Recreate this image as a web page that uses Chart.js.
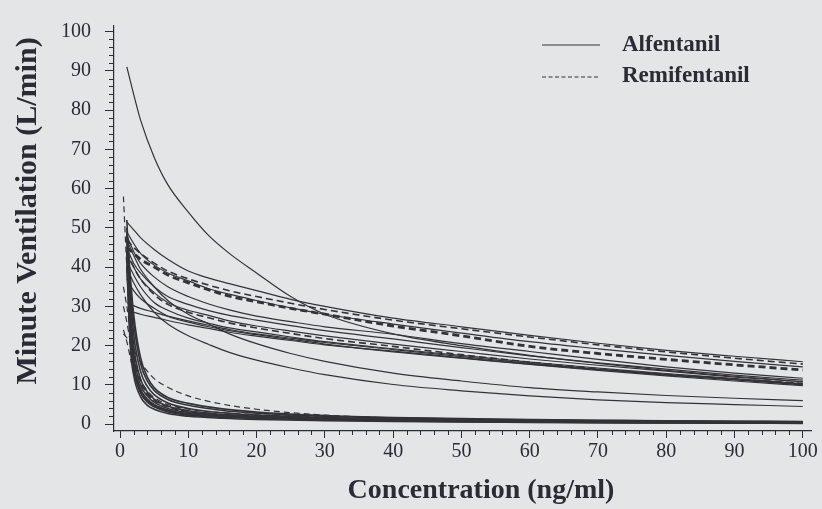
<!DOCTYPE html>
<html lang="en">
<head>
<meta charset="UTF-8">
<title>Minute Ventilation vs Concentration</title>
<script src="https://cdn.jsdelivr.net/npm/chart.js"></script>
<style>
  body { margin: 0; background: #e4e5e7; }
  #wrap { width: 822px; height: 509px; }
</style>
</head>
<body>
<div id="wrap"><canvas id="vent"></canvas></div>
<script>
const concUpper = [1, 2, 3, 5, 7, 10, 13, 16, 20, 25, 30, 40, 50, 60, 70, 80, 90, 100];
const concLower = [1, 1.5, 2, 3, 4, 5, 7, 10, 15, 20, 30, 40, 50, 60, 70, 80, 90, 100];
const concLowerDashed = [0.5, 1, 1.5, 2, 3, 4, 5, 7, 10, 15, 20, 30, 40, 50, 60, 70, 80, 90, 100];

// upper bundle, solid (Alfentanil), minute ventilation L/min
const upperSolid = [
  [91, 84, 77.5, 68, 61, 54, 48, 43.5, 38.5, 32.5, 28, 23, 20, 17.5, 15.5, 13.7, 12.2, 10.8],
  [51.5, 49.5, 47.5, 44.5, 42, 39, 37.2, 35.8, 34, 31.8, 30, 27, 24.8, 22.6, 20.6, 18.8, 17.3, 15.9],
  [49, 46, 43.5, 40.5, 38.5, 36.5, 34.5, 33.1, 31.5, 29.6, 28, 25.5, 23.2, 21, 19.2, 17.5, 16, 14.6],
  [48, 44, 41, 37.5, 35, 32.5, 30.6, 29.1, 27.5, 26.1, 24.8, 22.9, 20.5, 18.5, 16.5, 14.6, 13, 11.7],
  [45, 41, 38.5, 35, 32.5, 30.5, 28.9, 27.7, 26.5, 25.1, 23.8, 21.7, 19.5, 17.4, 15.6, 14, 12.5, 11.2],
  [43, 40, 37, 33.5, 31, 29, 27.7, 26.3, 25, 23.7, 22.5, 20.4, 18.5, 16.6, 15, 13.5, 12, 10.8],
  [41.5, 38, 35, 31, 29, 27, 25.7, 24.5, 23.5, 22.2, 21, 19.2, 17.5, 15.8, 14.3, 12.9, 11.6, 10.3],
  [37, 34, 32, 29.5, 27.5, 26, 24.8, 23.8, 22.8, 21.6, 20.4, 18.4, 16.8, 15.2, 13.7, 12.3, 11, 9.8],
  [31, 30.2, 29.5, 28.5, 27.5, 26.3, 25.2, 24.1, 23, 21.9, 20.8, 19, 17.2, 15.5, 14, 12.7, 11.4, 10.2],
  [29, 28.5, 28, 27.2, 26.4, 25.3, 24.4, 23.4, 22.4, 21.3, 20.2, 18.6, 16.9, 15.3, 13.9, 12.5, 11.3, 10],
  [40, 36, 33, 28.5, 25.5, 22.5, 20.3, 18.3, 16.3, 14.3, 12.6, 10.1, 8.5, 7.2, 6.2, 5.5, 5, 4.5],
  [47, 43, 39.5, 35, 31.5, 28, 25.5, 23, 20.5, 18, 16, 13, 11, 9.3, 8.2, 7.3, 6.6, 6]
];

// upper bundle, dashed (Remifentanil)
const upperDashed = [
  [45, 43.5, 42, 40, 38, 36, 34.2, 32.6, 31.2, 29.5, 28, 25, 22.5, 19.8, 18, 16.5, 15.1, 13.8],
  [47, 45, 43.5, 41, 39, 37, 35.4, 34, 32.5, 30.8, 29.2, 26.5, 24.3, 22.2, 20.2, 18.4, 16.8, 15.3],
  [44, 40, 37, 33, 30.5, 28.5, 27.1, 25.8, 24.5, 23.1, 21.8, 19.8, 17.7, 15.8, 14.1, 12.7, 11.5, 10.4]
];

// lower bundle, solid
const lowerSolid = [
  [42, 20, 12.5, 7, 4.8, 3.8, 2.7, 2, 1.5, 1.2, 0.9, 0.7, 0.55, 0.45, 0.35, 0.3, 0.25, 0.2],
  [45, 24, 15, 8.5, 6, 4.7, 3.4, 2.5, 1.9, 1.6, 1.2, 0.9, 0.75, 0.6, 0.5, 0.4, 0.35, 0.3],
  [48, 27, 17.5, 10, 7.2, 5.6, 4, 3, 2.2, 1.8, 1.35, 1.05, 0.85, 0.7, 0.6, 0.5, 0.45, 0.4],
  [50, 31, 20, 11.5, 8.2, 6.4, 4.6, 3.4, 2.5, 2, 1.5, 1.2, 1, 0.85, 0.7, 0.6, 0.5, 0.45],
  [52, 34, 23, 13.5, 9.6, 7.5, 5.4, 4, 2.9, 2.3, 1.7, 1.35, 1.1, 0.95, 0.8, 0.7, 0.6, 0.5],
  [47, 36, 26, 15.5, 11, 8.6, 6.3, 4.8, 3.5, 2.8, 2, 1.6, 1.3, 1.1, 0.95, 0.8, 0.7, 0.6],
  [44, 26, 16, 9, 6.4, 5, 3.6, 2.7, 2, 1.7, 1.25, 0.95, 0.8, 0.65, 0.55, 0.45, 0.4, 0.35],
  [40, 22, 14, 8, 5.6, 4.4, 3.1, 2.3, 1.75, 1.45, 1.05, 0.8, 0.65, 0.5, 0.4, 0.35, 0.3, 0.25],
  [49, 38, 28, 17, 12, 9.3, 6.8, 5.3, 3.9, 3.1, 2.2, 1.7, 1.4, 1.2, 1, 0.85, 0.75, 0.65]
];

// lower bundle, dashed
const lowerDashed = [
  [23, 22, 20.5, 19, 15.8, 13.5, 11.6, 9.4, 7.2, 5.1, 3.8, 2.3, 1.6, 1.25, 1, 0.85, 0.7, 0.6, 0.5],
  [58, 40, 28, 19, 11, 7.8, 6.1, 4.4, 3.2, 2.4, 2, 1.5, 1.2, 1, 0.85, 0.7, 0.6, 0.5, 0.45],
  [30, 26, 21, 16, 10.2, 7.6, 6, 4.4, 3.2, 2.4, 1.9, 1.4, 1.1, 0.9, 0.75, 0.6, 0.5, 0.45, 0.4],
  [24, 21, 17, 13, 8.2, 6, 4.8, 3.5, 2.6, 2, 1.65, 1.2, 0.95, 0.8, 0.65, 0.55, 0.45, 0.4, 0.35],
  [35, 30, 24, 18, 11.5, 8.5, 6.8, 5, 3.8, 2.9, 2.4, 1.75, 1.35, 1.1, 0.9, 0.8, 0.7, 0.6, 0.5]
];

const legendNames = ['Alfentanil', 'Remifentanil'];
const xTitle = 'Concentration (ng/ml)';
const yTitle = 'Minute Ventilation (L/min)';

const ink = '#2b2b33';
const lineInk = '#333337';
const serif = '"Liberation Serif", "Times New Roman", serif';

function toPoints(xs, ys) {
  return xs.map((x, i) => ({ x: x, y: ys[i] }));
}

function curve(xs, ys, width, dash) {
  return {
    data: toPoints(xs, ys),
    borderColor: lineInk,
    borderWidth: width,
    borderDash: dash || [],
    pointRadius: 0,
    fill: false,
    cubicInterpolationMode: 'monotone'
  };
}

const datasets = [];
upperSolid.forEach(ys => datasets.push(curve(concUpper, ys, 1.2)));
upperDashed.forEach((ys, i) => datasets.push(curve(concUpper, ys, i === 0 ? 2.8 : 1.6, [7, 4])));
lowerSolid.forEach(ys => datasets.push(curve(concLower, ys, 1.6)));
lowerDashed.forEach(ys => datasets.push(curve(concLowerDashed, ys, 1.2, [6, 4])));

// small ticks every 2 units, plus legend and axis titles
const decorations = {
  id: 'decorations',
  afterDraw(chart) {
    const ctx = chart.ctx;
    const xs = chart.scales.x, ys = chart.scales.y;
    const area = chart.chartArea;
    ctx.save();
    ctx.strokeStyle = ink;
    ctx.lineWidth = 1;
    for (let v = 0; v <= 100; v += 2) {
      if (v % 10 === 0) continue;
      const px = Math.round(xs.getPixelForValue(v)) + 0.5;
      ctx.beginPath();
      ctx.moveTo(px, area.bottom);
      ctx.lineTo(px, area.bottom + 4);
      ctx.stroke();
      const py = Math.round(ys.getPixelForValue(v)) + 0.5;
      ctx.beginPath();
      ctx.moveTo(area.left - 5, py);
      ctx.lineTo(area.left, py);
      ctx.stroke();
    }

    // legend
    ctx.strokeStyle = lineInk;
    ctx.lineWidth = 1.2;
    ctx.beginPath();
    ctx.moveTo(542, 45);
    ctx.lineTo(600, 45);
    ctx.stroke();
    ctx.setLineDash([4, 2.5]);
    ctx.beginPath();
    ctx.moveTo(542, 77);
    ctx.lineTo(600, 77);
    ctx.stroke();
    ctx.setLineDash([]);
    ctx.fillStyle = ink;
    ctx.font = 'bold 23px ' + serif;
    ctx.textBaseline = 'middle';
    ctx.textAlign = 'left';
    ctx.fillText(legendNames[0], 622, 45);
    ctx.fillText(legendNames[1], 622, 76);

    // axis titles
    ctx.font = 'bold 28px ' + serif;
    ctx.textAlign = 'center';
    ctx.fillText(xTitle, 481, 491);
    ctx.translate(28, 211);
    ctx.rotate(-Math.PI / 2);
    ctx.font = 'bold 30px ' + serif;
    ctx.fillText(yTitle, 0, 0);
    ctx.restore();
  }
};

new Chart(document.getElementById('vent').getContext('2d'), {
  type: 'line',
  data: { datasets: datasets },
  options: {
    responsive: true,
    maintainAspectRatio: false,
    animation: false,
    layout: { padding: { top: 15, right: 11, left: 0, bottom: 0 } },
    plugins: {
      legend: { display: false },
      tooltip: { enabled: false }
    },
    scales: {
      x: {
        type: 'linear',
        min: -0.88,
        max: 101.2,
        afterFit: s => { s.height = 78; },
        border: { color: ink, width: 1.2 },
        grid: { drawOnChartArea: false, tickLength: 7, tickColor: ink },
        ticks: {
          stepSize: 10,
          includeBounds: false,
          autoSkip: false,
          maxRotation: 0,
          padding: 2,
          color: ink,
          font: { family: serif, size: 20 }
        }
      },
      y: {
        min: -1.74,
        max: 101.4,
        afterFit: s => { s.width = 114; },
        border: { color: ink, width: 1.2 },
        grid: { drawOnChartArea: false, tickLength: 9, tickColor: ink },
        ticks: {
          stepSize: 10,
          includeBounds: false,
          autoSkip: false,
          padding: 14,
          color: ink,
          font: { family: serif, size: 20 }
        }
      }
    }
  },
  plugins: [decorations]
});
</script>
</body>
</html>
